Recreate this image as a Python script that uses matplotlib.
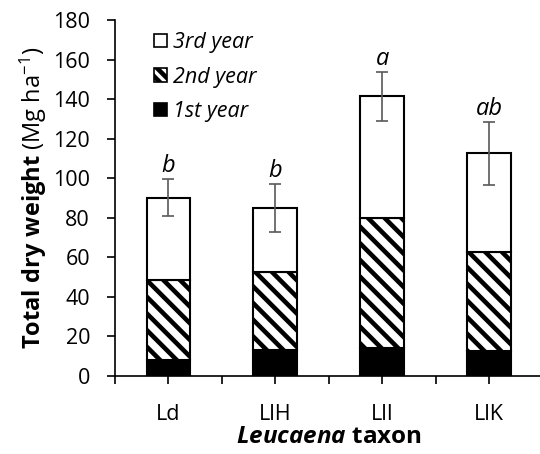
import numpy as np
import matplotlib.pyplot as plt
from matplotlib.patches import Patch

# Datos
taxa = ['Ld', 'LlH', 'LlI', 'LlK']
year1 = [7.8, 13.2, 14.0, 12.8]
year2 = [40.9, 39.2, 65.7, 49.8]
year3 = [41.4, 32.6, 61.7, 49.9]
err = [9.3, 12.0, 12.3, 16.1]
letras = ['b', 'b', 'a', 'ab']

plt.rcParams['font.family'] = ['Open Sans', 'DejaVu Sans']
plt.rcParams['mathtext.fontset'] = 'custom'
plt.rcParams['mathtext.rm'] = 'Open Sans'
plt.rcParams['mathtext.bf'] = 'Open Sans:bold'
plt.rcParams['mathtext.it'] = 'Open Sans:italic'
plt.rcParams['mathtext.bfit'] = 'Open Sans:italic:bold'
plt.rcParams['hatch.linewidth'] = 3.3

fig = plt.figure(figsize=(5.4, 4.54), dpi=100)
ax = fig.add_axes([0.213, 0.172, 0.792, 0.784])

x = np.arange(len(taxa))
w = 0.41
b1 = np.array(year1)
b2 = b1 + np.array(year2)
total = b2 + np.array(year3)

ax.bar(x, year1, w, color='black', edgecolor='black', linewidth=1.5)
ax.bar(x, year2, w, bottom=b1, color='white', edgecolor='black', hatch='\\\\', linewidth=1.5)
ax.bar(x, year3, w, bottom=b2, color='white', edgecolor='black', linewidth=1.5)
ax.errorbar(x, total, yerr=err, fmt='none', ecolor='#595959', elinewidth=1.2, capsize=4.3, capthick=1.2)

for xi, t, e, l in zip(x, total, err, letras):
    ax.text(xi, t + e + 0.5, l, ha='center', va='bottom', fontsize=17, style='italic')

ax.set_xlim(-0.5, 3.5)
ax.set_ylim(0, 180)
ax.set_yticks(np.arange(0, 181, 20))
ax.set_xticks(x)
ax.set_xticklabels(taxa)
ax.set_xticks(np.arange(-0.5, 3.6, 1), minor=True)
ax.tick_params(axis='both', which='both', direction='out', length=6, width=1.2, labelsize=15.5)
ax.tick_params(axis='x', pad=14)
ax.tick_params(axis='y', pad=12)
for s in ['top', 'right']:
    ax.spines[s].set_visible(False)
for s in ['left', 'bottom']:
    ax.spines[s].set_linewidth(1.2)

ax.set_ylabel(r'$\mathbf{Total\ dry\ weight}$ (Mg ha$^{-1}$)', fontsize=17, labelpad=3)
ax.set_xlabel(r'$\mathbfit{Leucaena}$ $\mathbf{taxon}$', fontsize=17.5, labelpad=0)

handles = [Patch(facecolor='white', edgecolor='black', linewidth=1.2),
           Patch(facecolor='white', edgecolor='black', hatch='\\\\\\', linewidth=1.2),
           Patch(facecolor='black', edgecolor='black', linewidth=1.2)]
leg = ax.legend(handles, ['3rd year', '2nd year', '1st year'], loc='upper left',
                bbox_to_anchor=(0.045, 1.02), frameon=False, handlelength=0.6,
                handleheight=0.6, handletextpad=0.3, labelspacing=0.62,
                prop={'style': 'italic', 'size': 15.5})

fig.savefig('out.png', dpi=100)
